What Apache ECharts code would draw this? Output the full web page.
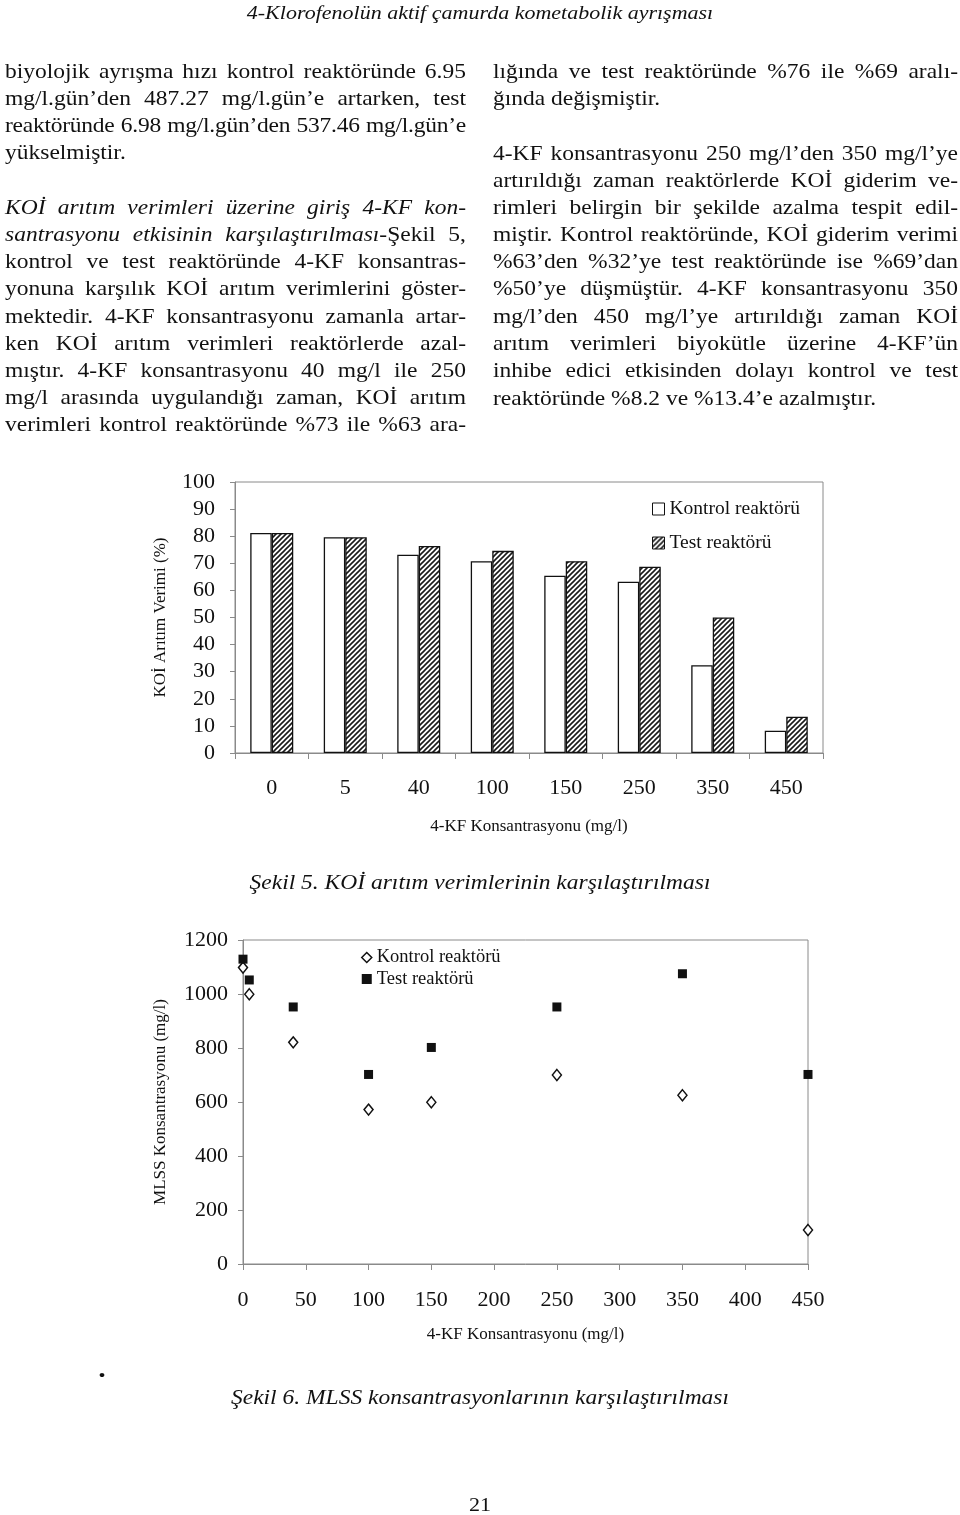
<!DOCTYPE html>
<html><head><meta charset="utf-8">
<script src="https://cdn.jsdelivr.net/npm/echarts@6/dist/echarts.min.js"></script>
<style>
html,body{margin:0;padding:0;background:#fff;}
#page{position:relative;width:960px;height:1515px;overflow:hidden;font-family:"Liberation Serif","Times New Roman",serif;color:#111;}
#chart{position:absolute;left:0;top:0;width:960px;height:1515px;}
.ln{position:absolute;height:27px;line-height:27px;font-size:23.5px;white-space:nowrap;transform:scaleY(0.85);transform-origin:50% 50%;}
.j{text-align:justify;text-align-last:justify;}
.c{text-align:center;}
</style></head>
<body><div id="page"><div id="chart"></div></div>
<script>
// ---- data ----
const categories = ['0', '5', '40', '100', '150', '250', '350', '450'];
const kontrolKOI = [81.2, 79.6, 73.2, 70.8, 65.4, 63.2, 32.4, 8.2];
const testKOI    = [81.2, 79.6, 76.4, 74.6, 70.8, 68.7, 50.0, 13.4];
const mlssX       = [0, 5, 40, 100, 150, 250, 350, 450];
const kontrolMLSS = [1098, 999, 821, 572, 599, 700, 625, 126];
const testMLSS    = [1129, 1052, 952, 702, 802, 952, 1075, 702];
const seriesNames = ['Kontrol reaktörü', 'Test reaktörü'];
const koiAxisName = 'KOİ Arıtım Verimi (%)';
const mlssAxisName = 'MLSS Konsantrasyonu (mg/l)';
const kfAxisName = '4-KF Konsantrasyonu (mg/l)';

// ---- page text ----
const page = document.getElementById('page');
function line(html, x, w, cy, cls, extra) {
  const d = document.createElement('div');
  d.className = 'ln ' + (cls || '');
  d.style.left = x + 'px'; d.style.width = w + 'px'; d.style.top = (cy - 13.5) + 'px';
  if (extra) Object.assign(d.style, extra);
  d.innerHTML = html;
  page.appendChild(d);
}
line('<i>4-Klorofenolün aktif çamurda kometabolik ayrışması</i>', 0, 960, 12, 'c', {fontSize: '22px'});

const leftLines = [
  ['biyolojik ayrışma hızı kontrol reaktöründe 6.95', 71, 'j'],
  ['mg/l.gün’den 487.27 mg/l.gün’e artarken, test', 98, 'j'],
  ['reaktöründe 6.98 mg/l.gün’den 537.46 mg/l.gün’e', 125, 'j', {letterSpacing: '-0.25px'}],
  ['yükselmiştir.', 152, ''],
  ['<i>KOİ arıtım verimleri üzerine giriş 4-KF kon-</i>', 207, 'j'],
  ['<i>santrasyonu etkisinin karşılaştırılması</i>-Şekil 5,', 234, 'j'],
  ['kontrol ve test reaktöründe 4-KF konsantras-', 261, 'j'],
  ['yonuna karşılık KOİ arıtım verimlerini göster-', 288, 'j'],
  ['mektedir. 4-KF konsantrasyonu zamanla artar-', 316, 'j'],
  ['ken KOİ arıtım verimleri reaktörlerde azal-', 343, 'j'],
  ['mıştır. 4-KF konsantrasyonu 40 mg/l ile 250', 370, 'j'],
  ['mg/l arasında uygulandığı zaman, KOİ arıtım', 397, 'j'],
  ['verimleri kontrol reaktöründe %73 ile %63 ara-', 424, 'j']
];
leftLines.forEach(l => line(l[0], 5, 461, l[1], l[2], l[3]));
const rightLines = [
  ['lığında ve test reaktöründe %76 ile %69 aralı-', 71, 'j'],
  ['ğında değişmiştir.', 98, ''],
  ['4-KF konsantrasyonu 250 mg/l’den 350 mg/l’ye', 153, 'j'],
  ['artırıldığı zaman reaktörlerde KOİ giderim ve-', 180, 'j'],
  ['rimleri belirgin bir şekilde azalma tespit edil-', 207, 'j'],
  ['miştir. Kontrol reaktöründe, KOİ giderim verimi', 234, 'j'],
  ['%63’den %32’ye test reaktöründe ise %69’dan', 261, 'j'],
  ['%50’ye düşmüştür. 4-KF konsantrasyonu 350', 288, 'j'],
  ['mg/l’den 450 mg/l’ye artırıldığı zaman KOİ', 316, 'j'],
  ['arıtım verimleri biyokütle üzerine 4-KF’ün', 343, 'j'],
  ['inhibe edici etkisinden dolayı kontrol ve test', 370, 'j'],
  ['reaktöründe %8.2 ve %13.4’e azalmıştır.', 398, '']
];
rightLines.forEach(l => line(l[0], 493, 465, l[1], l[2], l[3]));
line('<i>Şekil 5. KOİ arıtım verimlerinin karşılaştırılması</i>', 0, 960, 882, 'c');
line('•', 92, 20, 1375, 'c', {fontSize: '20px'});
line('<i>Şekil 6. MLSS konsantrasyonlarının karşılaştırılması</i>', 0, 960, 1397, 'c');
line('21', 0, 960, 1504, 'c', {fontSize: '22px'});

// ---- hatch pattern ----
function hatch() {
  const c = document.createElement('canvas'); c.width = c.height = 5;
  const g = c.getContext('2d');
  g.fillStyle = '#fff'; g.fillRect(0, 0, 5, 5);
  g.strokeStyle = '#1a1a1a'; g.lineWidth = 1.6;
  g.beginPath();
  g.moveTo(-1, 6); g.lineTo(6, -1);
  g.moveTo(-1, 1); g.lineTo(1, -1);
  g.moveTo(4, 6); g.lineTo(6, 4);
  g.stroke();
  return c;
}
const hatchFill = {image: hatch(), repeat: 'repeat'};

const FONT = 'Liberation Serif';
const gray = '#8a8a8a';
const axisCommon = {
  axisLine: {show: true, lineStyle: {color: gray, width: 1}},
  axisTick: {show: true, length: 6, lineStyle: {color: gray}},
  splitLine: {show: false},
  nameTextStyle: {fontSize: 17, color: '#111', fontFamily: FONT},
};
const plain = v => String(v);

const chart = echarts.init(document.getElementById('chart'), null, {renderer: 'canvas'});
chart.setOption({
  animation: false,
  textStyle: {fontFamily: FONT, color: '#111'},
  grid: [
    {left: 235, top: 482, width: 588, height: 271, show: true, borderColor: gray, borderWidth: 1},
    {left: 243, top: 940, width: 565, height: 324, show: true, borderColor: gray, borderWidth: 1}
  ],
  legend: [
    {
      left: 652, top: 499, padding: 0, orient: 'vertical', itemWidth: 12, itemHeight: 12, itemGap: 14,
      textStyle: {fontSize: 19.5, color: '#111', fontFamily: FONT},
      data: [
        {name: seriesNames[0], icon: 'rect', itemStyle: {color: '#fff', borderColor: '#111', borderWidth: 1}},
        {name: seriesNames[1], icon: 'rect', itemStyle: {color: hatchFill, borderColor: '#111', borderWidth: 1}}
      ]
    },
    {
      left: 361, top: 948, padding: 0, orient: 'vertical', itemWidth: 10, itemHeight: 10, itemGap: 2.5,
      textStyle: {fontSize: 18.5, color: '#111', fontFamily: FONT},
      data: [
        {name: seriesNames[0], icon: 'diamond', itemStyle: {color: '#fff', borderColor: '#111', borderWidth: 1.5}},
        {name: seriesNames[1], icon: 'rect', itemStyle: {color: '#111', borderWidth: 0}}
      ]
    }
  ],
  xAxis: [
    Object.assign({}, axisCommon, {
      gridIndex: 0, type: 'category', data: categories,
      axisLabel: {fontSize: 22, margin: 24, color: '#111', fontFamily: FONT},
      name: kfAxisName, nameLocation: 'middle', nameGap: 65
    }),
    Object.assign({}, axisCommon, {
      gridIndex: 1, type: 'value', min: 0, max: 450, interval: 50,
      axisLabel: {fontSize: 22, margin: 25, color: '#111', fontFamily: FONT, formatter: plain},
      name: kfAxisName, nameLocation: 'middle', nameGap: 62
    })
  ],
  yAxis: [
    Object.assign({}, axisCommon, {
      gridIndex: 0, type: 'value', min: 0, max: 100, interval: 10,
      axisTick: {show: true, length: 5, lineStyle: {color: gray}},
      axisLabel: {fontSize: 22, margin: 20, color: '#111', fontFamily: FONT, formatter: plain},
      name: koiAxisName, nameLocation: 'middle', nameGap: 66
    }),
    Object.assign({}, axisCommon, {
      gridIndex: 1, type: 'value', min: 0, max: 1200, interval: 200,
      axisTick: {show: true, length: 5, lineStyle: {color: gray}},
      axisLabel: {fontSize: 22, margin: 15, color: '#111', fontFamily: FONT, formatter: plain},
      name: mlssAxisName, nameLocation: 'middle', nameGap: 74
    })
  ],
  series: [
    {
      name: seriesNames[0], type: 'bar', xAxisIndex: 0, yAxisIndex: 0, data: kontrolKOI,
      barWidth: 21.5, barGap: '0%',
      itemStyle: {color: '#fff', borderColor: '#111', borderWidth: 1.3}
    },
    {
      name: seriesNames[1], type: 'bar', xAxisIndex: 0, yAxisIndex: 0, data: testKOI,
      barWidth: 21.5, barGap: '0%',
      itemStyle: {color: hatchFill, borderColor: '#111', borderWidth: 1.3}
    },
    {
      name: seriesNames[0], type: 'scatter', xAxisIndex: 1, yAxisIndex: 1,
      data: mlssX.map((x, i) => [x, kontrolMLSS[i]]),
      symbol: 'diamond', symbolSize: [9, 11],
      itemStyle: {color: '#fff', borderColor: '#111', borderWidth: 1.5, opacity: 1}
    },
    {
      name: seriesNames[1], type: 'scatter', xAxisIndex: 1, yAxisIndex: 1,
      data: mlssX.map((x, i) => [x, testMLSS[i]]),
      symbol: 'rect', symbolSize: 9,
      itemStyle: {color: '#111', opacity: 1}
    }
  ]
});
</script>
</body></html>
